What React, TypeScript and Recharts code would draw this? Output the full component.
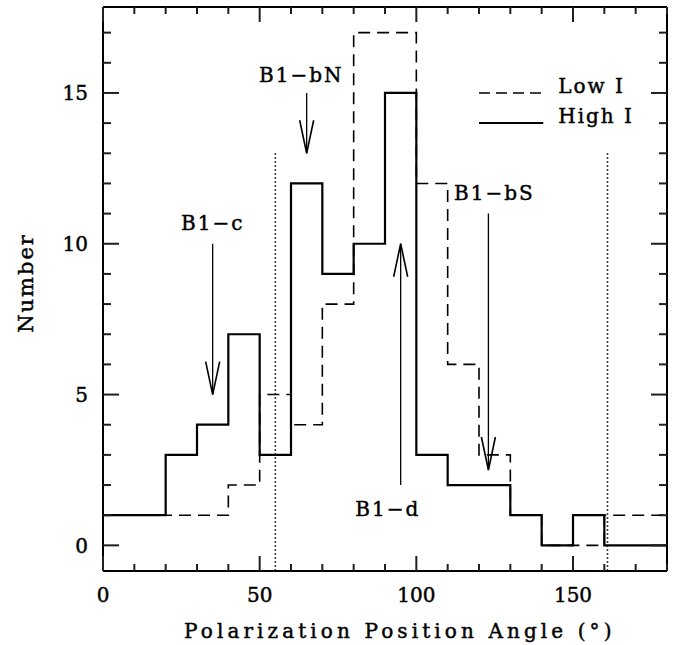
// Polarization position angle histogram — Low I (dashed) vs High I (solid) steps,
// PGPLOT-style frame with inward ticks on all four sides.

import { ComposedChart, Line, ReferenceDot, ReferenceLine, XAxis, YAxis } from 'recharts';

// bin starts (10° bins); the last entry closes the final bin
const angleBins = [0, 10, 20, 30, 40, 50, 60, 70, 80, 90, 100, 110, 120, 130, 140, 150, 160, 170, 180];
const highI = [1, 1, 3, 4, 7, 3, 12, 9, 10, 15, 3, 2, 2, 1, 0, 1, 0, 0, 0];
const lowI = [1, 1, 1, 1, 2, 5, 4, 8, 17, 17, 12, 6, 3, 1, 0, 0, 1, 1, 1];

const xTicks = [0, 10, 20, 30, 40, 50, 60, 70, 80, 90, 100, 110, 120, 130, 140, 150, 160, 170, 180];
const yTicks = [0, 1, 2, 3, 4, 5, 6, 7, 8, 9, 10, 11, 12, 13, 14, 15, 16, 17];
const xDomain = [0, 180];
const yDomain = [-0.85, 17.85];

// dotted boundary markers
const boundaryAngles = [55, 161];
const boundaryTop = 13;

// annotation arrows: label, arrow x, tail y, tip y, label x, label baseline y
const arrowNames = ['B1\u2212c', 'B1\u2212bN', 'B1\u2212d', 'B1\u2212bS'];
const arrowX = [35, 65, 95, 123];
const arrowTail = [10, 15, 2, 11];
const arrowTip = [5, 13, 10, 2.5];
const labelX = [35, 63.3, 90.9, 124.9];
const labelY = [10.47, 15.37, 0.97, 11.46];

// legend
const legendNames = ['Low I', 'High I'];
const legendY = [15, 14];
const legendX = [120, 140.5];

const FONT = '"DejaVu Serif", "Liberation Serif", serif';
const INK = '#000';
// PGPLOT strokes its glyphs, so give the outline font a little weight
const textInk = { fill: INK, stroke: INK, strokeWidth: 0.45 };
const TICK = '#202020';

const rows = angleBins.map((a, i) => ({ angle: a, high: highI[i], low: lowI[i] }));

const isMajor = (v: number, step: number) => Math.abs(v % step) < 1e-9;

// tickSize=0 so the x/y handed to these sit on the axis line; ticks are drawn inward.
function BottomTick(props: any) {
  const x = Number(props.x);
  const y = Number(props.y);
  const major = isMajor(props.payload.value, 50);
  return (
    <g>
      <rect x={x - 1} y={y - (major ? 15 : 7)} width={2} height={major ? 15 : 7} fill={TICK} />
      {major && (
        <text x={x} y={y + 30.5} textAnchor="middle" fontFamily={FONT} fontSize={20} {...textInk}>
          {props.payload.value}
        </text>
      )}
    </g>
  );
}

function TopTick(props: any) {
  const x = Number(props.x);
  const y = Number(props.y);
  const major = isMajor(props.payload.value, 50);
  return <rect x={x - 1} y={y} width={2} height={major ? 15 : 7} fill={TICK} />;
}

function LeftTick(props: any) {
  const x = Number(props.x);
  const y = Number(props.y);
  const major = isMajor(props.payload.value, 5);
  return (
    <g>
      <rect x={x} y={y - 1} width={major ? 16 : 8} height={2} fill={TICK} />
      {major && (
        <text x={x - 15} y={y + 7.3} textAnchor="end" fontFamily={FONT} fontSize={20} {...textInk}>
          {props.payload.value}
        </text>
      )}
    </g>
  );
}

function RightTick(props: any) {
  const x = Number(props.x);
  const y = Number(props.y);
  const major = isMajor(props.payload.value, 5);
  const len = major ? 16 : 8;
  return <rect x={x - len} y={y - 1} width={len} height={2} fill={TICK} />;
}

function XTitle({ viewBox }: any) {
  return (
    <text
      x={viewBox.x + 81}
      y={viewBox.y + 67}
      fontFamily={FONT}
      fontSize={20}
      letterSpacing={4.1}
      {...textInk}
    >
      Polarization Position Angle (°)
    </text>
  );
}

function YTitle({ viewBox }: any) {
  const cx = 33;
  const cy = viewBox.y + viewBox.height / 2 - 6;
  return (
    <text
      transform={`translate(${cx},${cy}) rotate(-90)`}
      textAnchor="middle"
      fontFamily={FONT}
      fontSize={21}
      letterSpacing={2}
      {...textInk}
    >
      Number
    </text>
  );
}

function ArrowShape({ x1, y1, x2, y2 }: any) {
  const dir = y2 > y1 ? 1 : -1;
  const headLen = 33;
  const headHalf = 7;
  return (
    <g>
      <line x1={x1} y1={y1} x2={x2} y2={y2} stroke={INK} strokeWidth={1.3} />
      <polyline
        points={`${x2 - headHalf},${y2 - dir * headLen} ${x2},${y2} ${x2 + headHalf},${y2 - dir * headLen}`}
        fill="none"
        stroke={INK}
        strokeWidth={1.6}
        strokeLinejoin="miter"
      />
    </g>
  );
}

const labelShape = (text: string) => (p: any) => (
  <text x={p.cx} y={p.cy} textAnchor="middle" fontFamily={FONT} fontSize={20} letterSpacing={2} {...textInk}>
    {text}
  </text>
);

const legendShape = (text: string, dashed: boolean) => (p: any) => (
  <g>
    <line
      x1={p.x1}
      y1={p.y1}
      x2={p.x2}
      y2={p.y2}
      stroke={INK}
      strokeWidth={dashed ? 1.6 : 2}
      strokeDasharray={dashed ? '11 6' : undefined}
    />
    <text x={p.x2 + 15} y={p.y2} fontFamily={FONT} fontSize={20} letterSpacing={2} {...textInk}>
      {text}
    </text>
  </g>
);

const axisLine = { stroke: INK, strokeWidth: 2 };

export default function App() {
  return (
    <div style={{ position: 'absolute', left: 0, top: 0, background: '#fff' }}>
      <ComposedChart
        width={677}
        height={645}
        data={rows}
        margin={{ top: 6, right: 9, bottom: 0, left: 0 }}
      >
        <XAxis
          type="number"
          dataKey="angle"
          domain={xDomain}
          ticks={xTicks}
          interval={0}
          tickSize={0}
          tickMargin={0}
          tickLine={false}
          axisLine={axisLine}
          height={74}
          tick={BottomTick}
          allowDataOverflow
          label={<XTitle />}
        />
        <XAxis
          xAxisId="top"
          orientation="top"
          type="number"
          dataKey="angle"
          domain={xDomain}
          ticks={xTicks}
          interval={0}
          tickSize={0}
          tickMargin={0}
          tickLine={false}
          axisLine={axisLine}
          height={1}
          tick={TopTick}
          allowDataOverflow
        />
        <YAxis
          type="number"
          domain={yDomain}
          ticks={yTicks}
          interval={0}
          tickSize={0}
          tickMargin={0}
          tickLine={false}
          axisLine={axisLine}
          width={103}
          tick={LeftTick}
          allowDataOverflow
          label={<YTitle />}
        />
        <YAxis
          yAxisId="right"
          orientation="right"
          type="number"
          domain={yDomain}
          ticks={yTicks}
          interval={0}
          tickSize={0}
          tickMargin={0}
          tickLine={false}
          axisLine={axisLine}
          width={1}
          tick={RightTick}
          allowDataOverflow
        />

        {boundaryAngles.map((a) => (
          <ReferenceLine
            key={`b${a}`}
            segment={[
              { x: a, y: boundaryTop },
              { x: a, y: yDomain[0] },
            ]}
            stroke={INK}
            strokeWidth={1.6}
            strokeDasharray="1.5 2.5"
            ifOverflow="visible"
          />
        ))}

        {/* Low I rides the top/right axes (same domains) so those frame sides get drawn */}
        <Line
          xAxisId="top"
          yAxisId="right"
          type="stepAfter"
          dataKey="low"
          stroke={INK}
          strokeWidth={1.6}
          strokeDasharray="12 7"
          dot={false}
          activeDot={false}
          isAnimationActive={false}
        />
        <Line
          type="stepAfter"
          dataKey="high"
          stroke={INK}
          strokeWidth={2.2}
          dot={false}
          activeDot={false}
          isAnimationActive={false}
        />

        {arrowNames.map((n, i) => (
          <ReferenceLine
            key={`a${i}`}
            segment={[
              { x: arrowX[i], y: arrowTail[i] },
              { x: arrowX[i], y: arrowTip[i] },
            ]}
            ifOverflow="visible"
            shape={ArrowShape}
          />
        ))}
        {arrowNames.map((n, i) => (
          <ReferenceDot
            key={`l${i}`}
            x={labelX[i]}
            y={labelY[i]}
            r={0}
            ifOverflow="visible"
            shape={labelShape(n)}
          />
        ))}

        {legendNames.map((n, i) => (
          <ReferenceLine
            key={`g${i}`}
            segment={[
              { x: legendX[0], y: legendY[i] },
              { x: legendX[1], y: legendY[i] },
            ]}
            ifOverflow="visible"
            shape={legendShape(n, i === 0)}
          />
        ))}
      </ComposedChart>
    </div>
  );
}
